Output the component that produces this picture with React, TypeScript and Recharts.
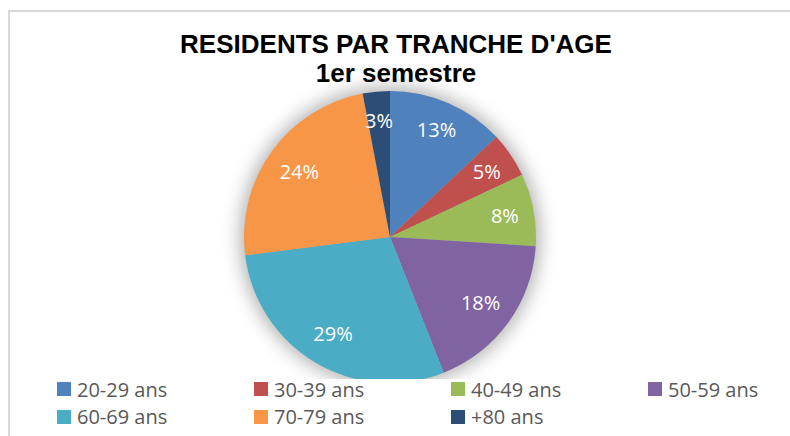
import { Cell, Legend, Pie, PieChart } from "recharts";

const categories = ["20-29 ans", "30-39 ans", "40-49 ans", "50-59 ans", "60-69 ans", "70-79 ans", "+80 ans"];
const shares = [13, 5, 8, 18, 29, 24, 3];
const colors = ["#4F81BD", "#C0504D", "#9BBB59", "#8064A2", "#4BACC6", "#F79646", "#2C4D75"];

const TITLE = "RESIDENTS PAR TRANCHE D'AGE";
const SUBTITLE = "1er semestre";

const data = categories.map((name, i) => ({ name, value: shares[i] }));
const total = shares.reduce((a, b) => a + b, 0);

const RAD = Math.PI / 180;

function renderLabel(props: any) {
  const { cx, cy, midAngle, value } = props;
  const r = value > 15 ? 112 : 117;
  const x = cx + r * Math.cos(-midAngle * RAD);
  const y = cy + r * Math.sin(-midAngle * RAD);
  return (
    <text
      x={x}
      y={y}
      fill="#ffffff"
      fontSize={20}
      fontFamily="'Open Sans', sans-serif"
      textAnchor="middle"
      dominantBaseline="central"
    >
      {Math.round((value / total) * 100)}%
    </text>
  );
}

function LegendBox() {
  return (
    <div style={{ position: "relative", width: 780, height: 57 }}>
      {categories.map((name, i) => {
        const col = i % 4;
        const row = Math.floor(i / 4);
        return (
          <div
            key={name}
            style={{
              position: "absolute",
              left: 47 + col * 197,
              top: row * 27.5,
              display: "flex",
              alignItems: "center",
              height: 20,
              fontFamily: "'Open Sans', sans-serif",
              fontSize: 20,
              color: "#595959",
              whiteSpace: "nowrap",
            }}
          >
            <span style={{ display: "inline-block", width: 14, height: 14, background: colors[i], marginRight: 6 }} />
            {name}
          </div>
        );
      })}
    </div>
  );
}

export default function App() {
  return (
    <div
      style={{
        position: "absolute",
        left: 0,
        top: 0,
        width: 790,
        height: 436,
        overflow: "hidden",
        background: "#ffffff",
      }}
    >
      <div
        style={{
          position: "absolute",
          left: 8,
          top: 10,
          width: 800,
          height: 450,
          borderTop: "2px solid #d9d9d9",
          borderLeft: "2px solid #d9d9d9",
        }}
      />
      <div
        style={{
          position: "absolute",
          left: 0,
          top: 30,
          width: 792,
          textAlign: "center",
          fontFamily: "'Liberation Sans', Arial, sans-serif",
          fontWeight: "bold",
          fontSize: 26,
          lineHeight: "29px",
          color: "#000000",
        }}
      >
        <div>{TITLE}</div>
        <div>{SUBTITLE}</div>
      </div>
      <div style={{ position: "absolute", left: 0, top: 0 }}>
        <PieChart width={790} height={436} margin={{ top: 0, right: 0, bottom: 0, left: 0 }}>
          <Pie
            data={[{ name: "shadow", value: 1 }]}
            dataKey="value"
            cx={390}
            cy={237}
            outerRadius={150}
            startAngle={90}
            endAngle={-270}
            stroke="none"
            isAnimationActive={false}
            legendType="none"
          >
            <Cell fill="#000000" fillOpacity={0.3} style={{ filter: "blur(9px)" }} />
          </Pie>
          <Pie
            data={data}
            dataKey="value"
            nameKey="name"
            cx={390}
            cy={237}
            outerRadius={146}
            startAngle={90}
            endAngle={-270}
            stroke="#ffffff"
            strokeWidth={0}
            label={renderLabel}
            labelLine={false}
            isAnimationActive={false}
          >
            {data.map((d, i) => (
              <Cell key={d.name} fill={colors[i]} />
            ))}
          </Pie>
          <Legend
            content={() => <LegendBox />}
            wrapperStyle={{ position: "absolute", left: 10, top: 379, width: 780, background: "#ffffff" }}
          />
        </PieChart>
      </div>
    </div>
  );
}
